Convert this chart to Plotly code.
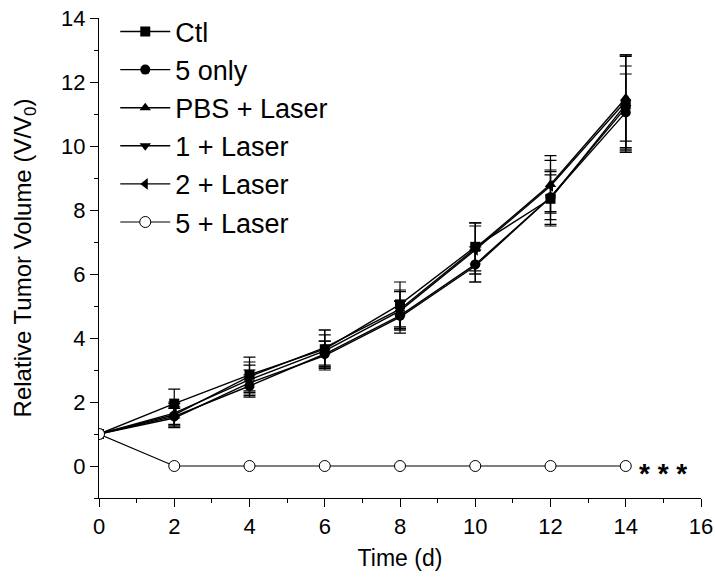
import plotly.graph_objects as go

days = [0, 2, 4, 6, 8, 10, 12, 14]
ctl = [1, 1.95, 2.85, 3.65, 5.05, 6.85, 8.35, 11.3]
ctl_err = [0, 0.45, 0.55, 0.6, 0.7, 0.75, 0.85, 1.5]
only5 = [1, 1.55, 2.5, 3.5, 4.7, 6.3, 8.4, 11.05]
only5_err = [0, 0.3, 0.35, 0.4, 0.45, 0.55, 0.7, 1.2]
pbs = [1, 1.6, 2.8, 3.7, 4.9, 6.8, 8.8, 11.5]
pbs_err = [0, 0.35, 0.45, 0.55, 0.6, 0.8, 0.9, 1.35]
las1 = [1, 1.5, 2.6, 3.45, 4.65, 6.25, 8.4, 11.2]
las1_err = [0, 0.3, 0.4, 0.45, 0.5, 0.5, 0.85, 1.3]
las2 = [1, 1.65, 2.7, 3.6, 4.85, 6.75, 8.75, 11.4]
las2_err = [0, 0.35, 0.45, 0.5, 0.6, 0.75, 0.8, 1.45]
las5 = [1, 0, 0, 0, 0, 0, 0, 0]

series = [
    ("Ctl", ctl, ctl_err, "square"),
    ("5 only", only5, only5_err, "circle"),
    ("PBS + Laser", pbs, pbs_err, "triangle-up"),
    ("1 + Laser", las1, las1_err, "triangle-down"),
    ("2 + Laser", las2, las2_err, "triangle-left"),
]

fig = go.Figure()
for name, vals, err, sym in series:
    fig.add_trace(go.Scatter(
        x=days, y=vals, name=name, mode="lines+markers",
        line=dict(color="black", width=1.4),
        marker=dict(symbol=sym, size=10, color="black"),
        error_y=dict(type="data", array=err, visible=True, color="black",
                     thickness=1.2, width=6),
    ))
fig.add_trace(go.Scatter(
    x=days, y=las5, name="5 + Laser", mode="lines+markers",
    line=dict(color="black", width=1.2),
    marker=dict(symbol="circle", size=11, color="white",
                line=dict(color="black", width=1)),
))

fig.add_annotation(x=15.0, y=-0.22, text="<b>* * *</b>", showarrow=False,
                   font=dict(size=28, color="black", family="Arial"),
                   xanchor="center", yanchor="middle")

fig.update_layout(
    width=715, height=583,
    margin=dict(l=99, r=14, t=18, b=85, autoexpand=False),
    paper_bgcolor="white", plot_bgcolor="white",
    font=dict(family="Arial, Liberation Sans, sans-serif", color="black"),
    showlegend=True,
    legend=dict(x=0.027, y=1.022, xanchor="left", yanchor="top",
                font=dict(size=27), bgcolor="rgba(0,0,0,0)",
                itemwidth=50, tracegroupgap=0),
)
fig.update_xaxes(
    range=[0, 16], tickvals=list(range(0, 17, 2)),
    showline=True, linecolor="black", linewidth=1.3,
    ticks="outside", ticklen=8, tickwidth=1.3, tickcolor="black",
    minor=dict(tickvals=list(range(1, 16, 2)), ticks="outside", ticklen=4,
               tickcolor="black", tickwidth=1.3),
    showgrid=False, zeroline=False, ticklabeloverflow="allow",
    tickfont=dict(size=22),
    title=dict(text="Time (d)", font=dict(size=23), standoff=12),
)
fig.update_yaxes(
    range=[-1, 14], tickvals=list(range(0, 15, 2)),
    showline=True, linecolor="black", linewidth=1.3,
    ticks="outside", ticklen=8, tickwidth=1.3, tickcolor="black",
    minor=dict(tickvals=list(range(-1, 14, 2)), ticks="outside", ticklen=4,
               tickcolor="black", tickwidth=1.3),
    showgrid=False, zeroline=False, ticklabeloverflow="allow",
    tickfont=dict(size=22),
    title=dict(text="Relative Tumor Volume (V/V<sub>0</sub>)", font=dict(size=24), standoff=22),
)

fig.write_html("out.html")
